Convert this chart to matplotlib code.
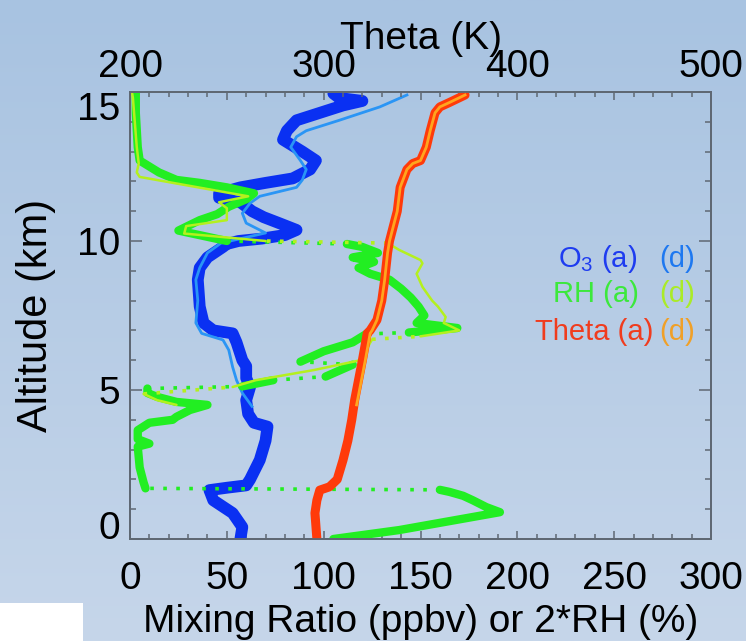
import numpy as np
import matplotlib
matplotlib.use("Agg")
import matplotlib.pyplot as plt
from matplotlib.patches import Rectangle
from matplotlib.ticker import MultipleLocator, FuncFormatter

plt.rcParams['font.family'] = ['Liberation Sans', 'DejaVu Sans']
plt.rcParams['mathtext.fontset'] = 'custom'
plt.rcParams['mathtext.rm'] = 'Liberation Sans'

# ozone, ascent (a) and descent (d), ppbv vs altitude km
o3_a_alt = [0.0, 0.4, 0.87, 1.3, 1.64, 1.72, 1.8, 2.0, 2.65, 3.3, 3.77, 3.9, 4.2, 4.66,
            5.1, 5.4, 5.8, 6.0, 6.6, 6.9, 7.0, 7.25, 7.8, 8.7, 9.1, 9.45, 9.8, 9.9, 10.0,
            10.08, 10.2, 10.37, 10.6, 10.8, 11.0, 11.3, 11.45, 11.6, 11.8, 11.95, 12.1,
            12.4, 12.7, 13.0, 13.2, 13.4, 13.7, 14.05, 14.3, 14.55, 14.7, 14.8, 14.95]
o3_a_val = [57, 58, 53, 43, 41, 50, 60, 62, 67, 70, 71, 64, 61, 60,
            62, 60, 60, 58, 55, 53, 43, 38, 36, 35, 36, 40, 48, 50, 56,
            68, 80, 86, 77, 69, 63, 57, 46, 46, 57, 70, 84,
            93, 96, 89, 84, 79, 81, 86, 98, 110, 120, 108, 105]
o3_d_alt = [4.45, 4.9, 5.33, 5.77, 6.34, 6.68, 6.9, 7.25, 8.0, 8.7, 9.1, 9.6, 9.93,
            10.27, 10.6, 10.93, 11.27, 11.5, 11.8, 12.05, 12.4, 12.7, 13.15, 13.5, 13.7,
            14.05, 14.5, 14.9]
o3_d_val = [63, 58, 55, 53, 51, 48, 37, 34, 35, 34, 36, 40, 47,
            70, 60, 58, 62, 67, 86, 89, 91, 88, 83, 86, 91,
            108, 129, 143]

# 2*RH (%)
rh_a_alt = [0.0, 0.3, 0.6, 0.9, 1.07, 1.3, 1.45, 1.58, 1.65, 1.7, 1.9, 2.4, 3.1, 3.2,
            3.35, 3.65, 3.9, 4.0, 4.1, 4.33, 4.5, 4.6, 4.77, 4.9, 5.05, 5.12, 5.33, 5.45,
            5.85, 5.95, 6.3, 6.6, 6.88, 6.93, 7.08, 7.25, 7.5, 7.8, 8.1, 8.4, 8.7, 8.9,
            9.1, 9.3, 9.45, 9.6, 9.8, 9.9, 10.0, 10.35, 10.7, 10.9, 11.15, 11.4, 11.6,
            11.8, 11.95, 12.05, 12.3, 12.5, 12.7, 13.15, 14.3, 15.0]
rh_a_val = [105, 139, 165, 191, 184, 177, 172, 165, 160, 8, 7, 5, 4, 10,
            4, 4, 10, 22, 24, 31, 40, 24, 14, 9, 9, 58, 74, 101,
            115, 88, 100, 115, 122, 144, 169, 148, 152, 149, 145, 140, 134, 124,
            118, 126, 115, 128, 120, 112, 50, 25, 36, 45, 51, 60, 64,
            50, 36, 24, 15, 10, 5, 4, 3, 3]
rh_d_alt = [4.5, 4.66, 4.87, 5.1, 5.33, 5.67, 6.0, 6.7, 6.8, 7.0, 7.25, 7.45, 7.8, 8.0,
            8.46, 8.9, 9.25, 9.36, 9.7, 9.93, 10.0, 10.25, 10.5, 10.7, 10.9, 11.1, 11.3,
            11.5, 12.15, 12.3, 12.6, 13.15, 14.8, 15.0]
rh_d_val = [24, 14, 7, 53, 65, 95, 119, 125, 150, 170, 162, 163, 159, 156,
            151, 148, 151, 150, 139, 133, 70, 28, 29, 50, 50, 50, 46,
            61, 5, 3.5, 4.5, 3.5, 1.5, 1]

# potential temperature (K)
th_a_alt = [0.0, 0.87, 1.3, 1.64, 1.75, 2.0, 2.65, 3.3, 4.0, 4.66, 5.33, 6.0, 6.9, 7.0,
            7.35, 8.0, 8.7, 9.6, 10.0, 10.5, 11.0, 11.8, 12.4, 12.6, 12.7, 13.15, 13.7,
            14.3, 14.5, 14.65, 14.9]
th_a_val = [296.5, 295.5, 296.5, 298, 303, 307, 310, 312.5, 314.5, 316, 318, 320, 322.5, 324,
            327.5, 330, 331.5, 333, 334, 336, 338, 339.5, 343, 346, 350, 353, 355,
            357.5, 360, 365, 373]
th_d_alt = [4.5, 5.33, 6.0, 6.9, 7.0, 7.35, 8.0, 8.7, 9.6, 10.0, 10.5, 11.0, 11.8, 12.4,
            12.6, 12.7, 13.15, 13.7, 14.3, 14.5, 14.65, 14.9]
th_d_val = [317, 319.5, 321.5, 324, 325, 327.5, 330, 331.5, 333, 334, 336, 338, 339.5, 343,
            346, 350, 353, 355, 357.5, 360, 365, 373]

c_o3a, c_o3d = '#0a30f2', '#2a95f5'
c_rha, c_rhd = '#22ee22', '#b4f01e'
c_tha, c_thd = '#ff3a0a', '#ffa51e'


def plot_rh(ax, val, alt, color, lw):
    # fast horizontal jumps show up as sparse samples -> dotted
    v = np.asarray(val, float)
    a = np.asarray(alt, float)
    pts = ax.transData.transform(np.column_stack([v, a]))
    dx = np.abs(np.diff(pts[:, 0]))
    dy = np.abs(np.diff(pts[:, 1]))
    fast = (dx > 12 * dy) & (dx > 30)
    i = 0
    n = len(fast)
    while i < n:
        j = i
        while j + 1 < n and fast[j + 1] == fast[i]:
            j += 1
        sl = slice(i, j + 2)
        if fast[i]:
            ax.plot(v[sl], a[sl], color=color, lw=2.6, ls=(0, (1, 2.6)))
        else:
            ax.plot(v[sl], a[sl], color=color, lw=lw,
                    solid_capstyle='round', solid_joinstyle='round')
        i = j + 1


fig = plt.figure(figsize=(7.46, 6.41), dpi=100)

bg = fig.add_axes([0, 0, 1, 1], zorder=0)
g = np.linspace(0, 1, 256)[:, None, None]
top_c = np.array([168, 195, 225]) / 255
bot_c = np.array([198, 214, 234]) / 255
bg.imshow(top_c + (bot_c - top_c) * g, aspect='auto', extent=[0, 1, 0, 1])
bg.axis('off')
fig.add_artist(Rectangle((0, 0), 83 / 746, 38 / 641, transform=fig.transFigure,
                         facecolor='white', edgecolor='none', zorder=1))

ax = fig.add_axes([130 / 746, 102 / 641, 581 / 746, 447 / 641], zorder=2)
ax.set_facecolor('none')
ax.set_xlim(0, 300)
ax.set_ylim(0, 15)

ax.plot(o3_a_val, o3_a_alt, color=c_o3a, lw=8.5, solid_joinstyle='round', solid_capstyle='round')
ax.plot(o3_d_val, o3_d_alt, color=c_o3d, lw=2.0)
plot_rh(ax, rh_a_val, rh_a_alt, c_rha, 6.0)
plot_rh(ax, rh_d_val, rh_d_alt, c_rhd, 1.8)

ax2 = ax.twiny()
ax2.set_facecolor('none')
ax2.set_xlim(200, 500)
ax2.plot(th_a_val, th_a_alt, color=c_tha, lw=6.5, solid_joinstyle='round', solid_capstyle='round')
ax2.plot(th_d_val, th_d_alt, color=c_thd, lw=2.0)

frame_c = '#5f6873'
for a_ in (ax, ax2):
    for s in a_.spines.values():
        s.set_color(frame_c)
        s.set_linewidth(1.3)

ax.xaxis.set_major_locator(MultipleLocator(50))
ax.xaxis.set_minor_locator(MultipleLocator(10))
ax.yaxis.set_major_locator(MultipleLocator(5))
ax.yaxis.set_minor_locator(MultipleLocator(1))
ax.tick_params(which='both', direction='in', top=False, right=True, color=frame_c,
               labelsize=28, labelcolor='black', width=1.1)
ax.tick_params(axis='x', which='major', length=6, pad=16)
ax.tick_params(axis='x', which='minor', length=3.6)
ax.tick_params(axis='y', which='major', length=8.6, pad=7)
ax.tick_params(axis='y', which='minor', length=4.3)

ax2.xaxis.set_major_locator(MultipleLocator(50))
ax2.xaxis.set_minor_locator(MultipleLocator(10))
ax2.xaxis.set_major_formatter(FuncFormatter(lambda x, p: f'{x:.0f}' if x % 100 == 0 else ''))
ax2.tick_params(which='both', direction='in', top=True, bottom=False, color=frame_c,
                labelsize=28, labelcolor='black', width=1.1)
ax2.tick_params(axis='x', which='major', length=6, pad=5)
ax2.tick_params(axis='x', which='minor', length=3.6)

ax.set_xlabel('Mixing Ratio (ppbv) or 2*RH (%)', fontsize=28, labelpad=5)
ax.set_ylabel('Altitude (km)', fontsize=30, labelpad=15)
ax2.set_xlabel('Theta (K)', fontsize=28, labelpad=0)

# colour key
fs = 21
tr = ax.transAxes
ax.text(0.873, 0.6085, 'O$_{3}$ (a)', color='#1e3cf0', fontsize=fs, ha='right', va='baseline', transform=tr)
ax.text(0.9725, 0.6085, '(d)', color='#1e78f0', fontsize=fs, ha='right', va='baseline', transform=tr)
ax.text(0.876, 0.530, 'RH (a)', color='#3ce83c', fontsize=fs, ha='right', va='baseline', transform=tr)
ax.text(0.9725, 0.530, '(d)', color='#aaeb28', fontsize=fs, ha='right', va='baseline', transform=tr)
ax.text(0.900, 0.445, 'Theta (a)', color='#f03c1e', fontsize=fs, ha='right', va='baseline', transform=tr)
ax.text(0.9725, 0.445, '(d)', color='#f0a028', fontsize=fs, ha='right', va='baseline', transform=tr)

# end labels of the altitude axis sit inside the frame, as in the original
fig.canvas.draw()
for tk in ax.yaxis.get_major_ticks():
    loc = tk.get_loc()
    if np.isclose(loc, 15):
        tk.label1.set_va('top')
    elif np.isclose(loc, 0):
        tk.label1.set_va('baseline')

fig.savefig('out.png', dpi=100)
